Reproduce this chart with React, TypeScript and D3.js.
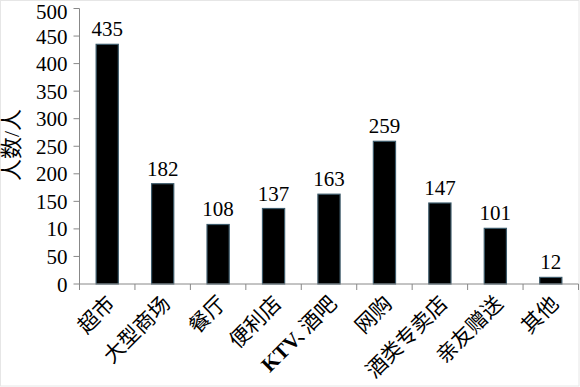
import React from 'react';
import * as d3 from 'd3';

const categories = ['超市', '大型商场', '餐厅', '便利店', 'KTV、酒吧', '网购', '酒类专卖店', '亲友赠送', '其他'];
const values = [435, 182, 108, 137, 163, 259, 147, 101, 12];
const yTicks = [0, 50, 100, 150, 200, 250, 300, 350, 400, 450, 500];
const yTickLabels = ['0', '50', '10', '150', '200', '250', '300', '350', '400', '450', '500'];
const yTitle = '人数/人';

const W = 580;
const H = 387;
const FONT = '"Liberation Serif", "Times New Roman", "Noto Sans CJK SC", serif';

export default function App() {
  const x = d3.scaleBand<string>().domain(categories).range([79.5, 578.5]).paddingInner(0.6).paddingOuter(0.3);
  const y = d3.scaleLinear().domain([0, 500]).range([284, 8.5]);
  const step = x.step();
  const x0 = 79.5;
  const xAxisY = y(0);

  return (
    <svg width={W} height={H} style={{ position: 'absolute', left: 0, top: 0, background: '#fff' }} fontFamily={FONT}>
      <rect x={0.5} y={0.5} width={W - 1.5} height={H - 1.5} fill="#fff" stroke="#e6e6e6" />
      {categories.map((c, i) => (
        <rect
          key={c}
          x={x(c)!}
          y={y(values[i])}
          width={x.bandwidth()}
          height={y(0) - y(values[i])}
          fill="#000"
          stroke="#3d5b6b"
          strokeWidth={1.2}
        />
      ))}
      {categories.map((c, i) => (
        <text
          key={'v' + c}
          x={x(c)! + x.bandwidth() / 2}
          y={y(values[i]) - 8}
          textAnchor="middle"
          fontSize={21}
          fill="#000"
        >
          {values[i]}
        </text>
      ))}
      <line x1={x0} x2={x0} y1={y(500)} y2={xAxisY} stroke="#888" strokeWidth={1} />
      {yTicks.map((t, i) => (
        <g key={'yt' + t}>
          <line x1={x0 - 6} x2={x0} y1={y(t)} y2={y(t)} stroke="#888" />
          <text
            x={x0 - 12}
            y={Math.max(y(t), 11.5)}
            dy="0.36em"
            textAnchor="end"
            fontSize={21}
            fill="#000"
          >
            {yTickLabels[i]}
          </text>
        </g>
      ))}
      <line x1={x0} x2={578.5} y1={xAxisY} y2={xAxisY} stroke="#888" />
      {categories.map((c, i) => (
        <line key={'xt' + c} x1={x0 + step * i} x2={x0 + step * i} y1={xAxisY} y2={xAxisY + 6} stroke="#888" />
      ))}
      <line x1={x0 + step * categories.length} x2={x0 + step * categories.length} y1={xAxisY} y2={xAxisY + 6} stroke="#888" />
      {categories.map((c) => {
        const cx = x(c)! + x.bandwidth() / 2 + 9;
        const cy = 305;
        return (
          <text key={'xl' + c} transform={`translate(${cx},${cy}) rotate(-45)`} textAnchor="end" fontSize={21} fill="#000">
            {c.startsWith('KTV') ? (
              <>
                <tspan fontWeight="bold">KTV</tspan>
                <tspan dx={-3}>、</tspan>
                <tspan dx={-9}>{c.slice(4)}</tspan>
              </>
            ) : (
              c
            )}
          </text>
        );
      })}
      <text transform={`translate(19,145) rotate(-90)`} textAnchor="middle" fontSize={22} fill="#000">
        {yTitle}
      </text>
    </svg>
  );
}
